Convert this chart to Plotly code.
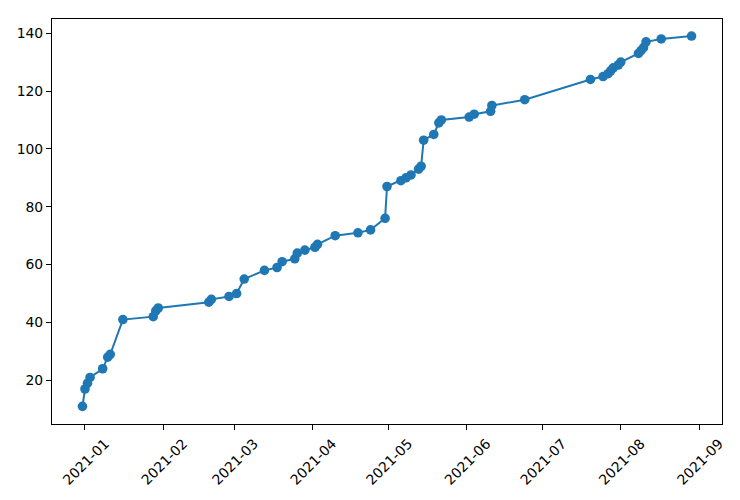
import plotly.graph_objects as go
import pandas as pd

dates = [
    "2020-12-31", "2021-01-01", "2021-01-02", "2021-01-03", "2021-01-08",
    "2021-01-10", "2021-01-11", "2021-01-16", "2021-01-28", "2021-01-29",
    "2021-01-30", "2021-02-19", "2021-02-20", "2021-02-27", "2021-03-02",
    "2021-03-05", "2021-03-13", "2021-03-18", "2021-03-20", "2021-03-25",
    "2021-03-26", "2021-03-29", "2021-04-02", "2021-04-03", "2021-04-10",
    "2021-04-19", "2021-04-24", "2021-04-29 18:00", "2021-04-30 12:00", "2021-05-06",
    "2021-05-08", "2021-05-10", "2021-05-13", "2021-05-14", "2021-05-15",
    "2021-05-19", "2021-05-21", "2021-05-22", "2021-06-02", "2021-06-04",
    "2021-06-10 12:00", "2021-06-11", "2021-06-24", "2021-07-20", "2021-07-25",
    "2021-07-27", "2021-07-28", "2021-07-29", "2021-07-31", "2021-08-01",
    "2021-08-08", "2021-08-09", "2021-08-10", "2021-08-11", "2021-08-17",
    "2021-08-29",
]
values = [
    11, 17, 19, 21, 24,
    28, 29, 41, 42, 44,
    45, 47, 48, 49, 50,
    55, 58, 59, 61, 62,
    64, 65, 66, 67, 70,
    71, 72, 76, 87, 89,
    90, 91, 93, 94, 103,
    105, 109, 110, 111, 112,
    113, 115, 117, 124, 125,
    126, 127, 128, 129, 130,
    133, 134, 135, 137, 138,
    139,
]
y_ticks = [20, 40, 60, 80, 100, 120, 140]

x = pd.to_datetime(dates, format="mixed")
xpad = (x.max() - x.min()) * 0.05

fig = go.Figure(go.Scatter(
    x=x, y=values, mode="lines+markers",
    line=dict(color="#1f77b4", width=2),
    marker=dict(color="#1f77b4", size=9.6),
))

axis_common = dict(
    showgrid=False, zeroline=False, showline=True, linecolor="black",
    linewidth=1.1, mirror=True, ticks="outside", ticklen=5, tickwidth=1.1,
    tickcolor="black", tickfont=dict(family="DejaVu Sans", size=13.9, color="black"),
)

fig.update_layout(
    width=740, height=500,
    margin=dict(l=52, r=18, t=19, b=73),
    paper_bgcolor="white", plot_bgcolor="white",
    showlegend=False,
    xaxis=dict(
        **axis_common,
        range=[x.min() - xpad, x.max() + xpad],
        tick0="2021-01-01", dtick="M1", tickformat="%Y-%m",
        tickangle=-45, ticklabelshift=20,
    ),
    yaxis=dict(
        **axis_common,
        range=[4.9, 144.9],
        tickvals=y_ticks,
    ),
)

fig.write_html("out.html")
